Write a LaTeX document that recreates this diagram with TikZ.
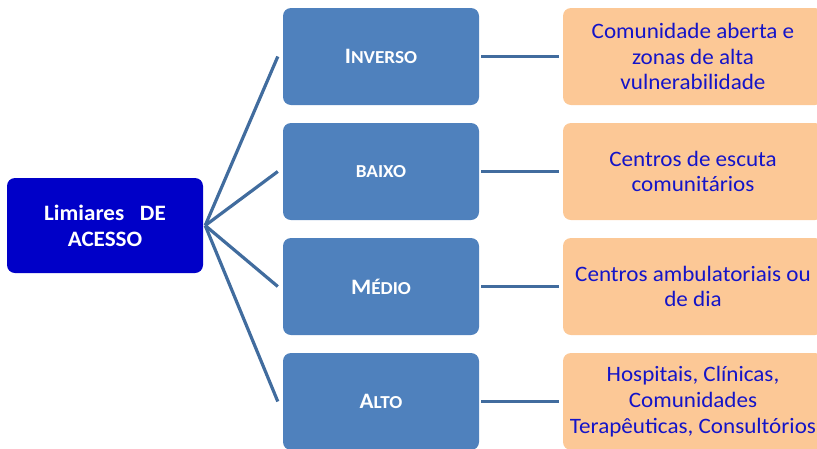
\documentclass[tikz,border=0pt]{standalone}
\usepackage{fontspec}
\setmainfont[FakeStretch=1.05]{Carlito}
\definecolor{darkblue}{RGB}{0,0,200}
\definecolor{midblue}{RGB}{79,129,189}
\definecolor{peach}{RGB}{252,200,150}
\definecolor{textblue}{RGB}{20,20,200}
\definecolor{lineblue}{RGB}{65,108,158}
\newcommand{\mysc}[1]{{\fontsize{18.3}{21}\selectfont #1}}
\begin{document}
\begin{tikzpicture}[x=1pt,y=-1pt,
  leftbox/.style={rounded corners=8pt, fill=darkblue, minimum width=196pt, minimum height=95pt,
    text=white, font=\fontsize{22}{26}\selectfont\bfseries, align=center, inner sep=0pt},
  midbox/.style={rounded corners=8pt, fill=midblue, minimum width=196pt, minimum height=97pt,
    text=white, font=\fontsize{22}{26}\selectfont\bfseries, inner sep=0pt},
  rightbox/.style={rounded corners=8pt, fill=peach, minimum width=260pt, minimum height=97pt,
    text=textblue, align=center, font=\fontsize{22}{25.7}\selectfont, inner sep=0pt},
  link/.style={draw=lineblue, line width=3.2pt}]
\useasboundingbox (0,0) rectangle (817,448);
\clip (0,0) rectangle (817,448);

\node[leftbox] (L) at (105,225.5) {Limiares\ \ \ DE\\ACESSO};

\node[midbox] (M1) at (381,56.5) {I\mysc{NVERSO}};
\node[midbox] (M2) at (381,171.5) {\mysc{BAIXO}};
\node[midbox] (M3) at (381,286.5) {M\mysc{ÉDIO}};
\node[midbox] (M4) at (381,401.5) {A\mysc{LTO}};

\node[rightbox] (R1) at (693,56.5) {Comunidade aberta e\\zonas de alta\\vulnerabilidade};
\node[rightbox] (R2) at (693,171.5) {Centros de escuta\\comunitários};
\node[rightbox] (R3) at (693,286.5) {Centros ambulatoriais ou\\de dia};
\node[rightbox] (R4) at (693,401.5) {Hospitais, Clínicas,\\Comunidades\\Terapêuticas, Consultórios};

\foreach \m in {M1,M2,M3,M4}{
  \draw[link] ([xshift=2pt]L.east) -- ([xshift=-5pt]\m.west);
}
\foreach \m/\r in {M1/R1,M2/R2,M3/R3,M4/R4}{
  \draw[link] ([xshift=2pt]\m.east) -- ([xshift=-4pt]\r.west);
}
\end{tikzpicture}
\end{document}
